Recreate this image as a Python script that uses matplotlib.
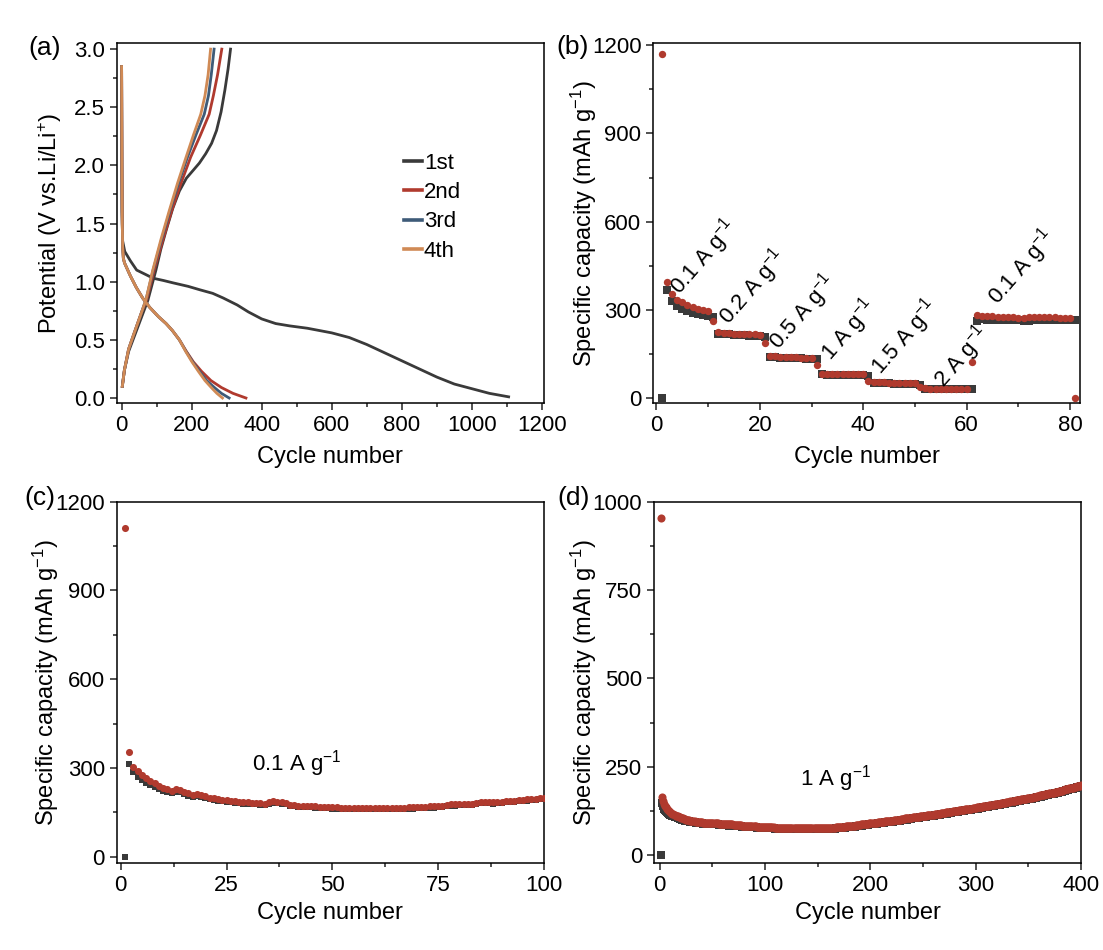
import numpy as np
import matplotlib
matplotlib.use("Agg")
import matplotlib.pyplot as plt
from matplotlib.ticker import MultipleLocator, FormatStrFormatter

plt.rcParams["font.family"] = ["Liberation Sans", "DejaVu Sans"]
plt.rcParams["mathtext.fontset"] = "custom"
plt.rcParams["mathtext.rm"] = "Liberation Sans"
plt.rcParams["mathtext.it"] = "Liberation Sans:italic"
plt.rcParams["axes.linewidth"] = 1.1

BLACK = "#3a3a3a"
RED = "#b03a2e"
BLUE = "#3e5b78"
ORANGE = "#d08a55"

# ---- (a) galvanostatic profiles: capacity (mAh/g) vs potential (V)
dis1_cap = [0, 1, 3, 9, 25, 43, 70, 90, 120, 147, 190, 224, 260, 290, 330, 362,
            400, 440, 480, 530, 600, 650, 700, 750, 800, 850, 900, 950, 1000, 1050, 1105]
dis1_v = [2.85, 1.6, 1.35, 1.26, 1.18, 1.10, 1.06, 1.03, 1.01, 0.99, 0.96, 0.93, 0.90,
          0.86, 0.80, 0.74, 0.68, 0.64, 0.62, 0.60, 0.56, 0.52, 0.46, 0.39, 0.32,
          0.25, 0.18, 0.12, 0.08, 0.04, 0.01]
chg1_cap = [2, 8, 20, 35, 55, 75, 98, 112, 127, 146, 165, 185, 205, 222, 240, 257,
            271, 284, 295, 304, 311]
chg1_v = [0.10, 0.24, 0.40, 0.52, 0.68, 0.84, 1.10, 1.28, 1.44, 1.63, 1.78, 1.89,
          1.96, 2.02, 2.10, 2.19, 2.30, 2.46, 2.65, 2.83, 3.0]

dis_v = [2.85, 2.0, 1.5, 1.3, 1.2, 1.16, 1.05, 0.95, 0.86, 0.78, 0.70, 0.64, 0.58,
         0.50, 0.40, 0.31, 0.23, 0.15, 0.09, 0.04, 0.0]
dis2_cap = [0, 1, 2, 3, 5, 8.5, 25, 42, 60, 80, 105, 127, 145, 165, 185, 205, 228,
            255, 285, 318, 355]
dis3_cap = [0, 1, 2, 3, 5, 8.5, 25, 42, 60, 80, 105, 127, 145, 165, 184, 203, 222,
            243, 265, 285, 307]
dis4_cap = [0, 1, 2, 3, 5, 8.5, 25, 42, 60, 80, 105, 127, 145, 165, 183, 201, 219,
            238, 256, 272, 288]

chg_v = [0.10, 0.24, 0.42, 0.55, 0.72, 0.85, 1.10, 1.36, 1.61, 1.85, 2.07, 2.26,
         2.44, 2.60, 2.78, 3.0]
chg2_cap = [2, 8, 20, 35, 55, 72, 93, 118, 143, 170, 197, 225, 250, 262, 274, 286]
chg3_cap = [2, 8, 20, 35, 55, 70, 90, 114, 138, 163, 188, 212, 236, 248, 256, 264]
chg4_cap = [2, 8, 20, 35, 55, 70, 89, 112, 136, 160, 184, 205, 226, 238, 247, 254]

# ---- (b) rate capability, cycles 1-81
rate_charge = [0, 368, 330, 313, 302, 296, 291, 286, 282, 279,
               277, 220, 218, 217, 216, 215, 214, 213, 212, 211,
               208, 141, 139, 138, 137, 137, 136, 136, 135, 135,
               134, 81, 80, 80, 80, 80, 79, 79, 79, 79,
               75, 52, 51, 51, 51, 50, 50, 50, 50, 50,
               46, 32, 32, 32, 31, 31, 31, 31, 31, 31,
               31, 262, 268, 267, 267, 266, 266, 266, 265, 265,
               264, 264, 265, 265, 265, 265, 265, 265, 265, 265,
               266]
rate_discharge = [1170, 394, 353, 334, 326, 317, 311, 304, 300, 296,
                  264, 224, 222, 221, 220, 219, 218, 218, 217, 216,
                  187, 144, 142, 141, 140, 139, 139, 138, 138, 137,
                  112, 84, 83, 83, 83, 82, 82, 82, 82, 82,
                  58, 55, 54, 54, 53, 53, 53, 53, 52, 52,
                  40, 34, 33, 33, 33, 33, 32, 32, 32, 32,
                  124, 282, 281, 279, 278, 277, 277, 276, 276, 274,
                  274, 275, 275, 275, 275, 275, 275, 274, 274, 274,
                  0]
rate_labels = ["0.1 A g$^{-1}$", "0.2 A g$^{-1}$", "0.5 A g$^{-1}$", "1 A g$^{-1}$",
               "1.5 A g$^{-1}$", "2 A g$^{-1}$", "0.1 A g$^{-1}$"]
rate_label_cycle = [4.5, 13.9, 23.7, 33.7, 43.4, 55.6, 66]
rate_label_cap = [351, 249, 164, 124, 79, 35, 317]

# ---- (c) cycling at 0.1 A/g, cycles 1-100
c_charge = [0, 315, 285, 270, 260, 250, 243, 236, 230, 224,
            218, 216, 220, 218, 212, 207, 203, 205, 203, 198,
            194, 191, 190, 188, 186, 185, 183, 181, 180, 179,
            178, 177, 176, 175, 180, 182, 181, 180, 178, 172,
            170, 169, 168, 168, 167, 166, 165, 164, 164, 163,
            163, 162, 162, 162, 162, 161, 161, 161, 161, 161,
            161, 161, 161, 161, 162, 162, 162, 163, 163, 164,
            165, 165, 166, 166, 167, 169, 172, 173, 173, 174,
            174, 175, 176, 177, 181, 182, 181, 180, 181, 182,
            184, 185, 186, 187, 189, 190, 191, 192, 194, 195]
c_discharge = [1110, 355, 305, 289, 278, 265, 256, 248, 240, 234,
               228, 224, 228, 226, 220, 214, 210, 212, 210, 205,
               200, 197, 195, 193, 191, 190, 188, 186, 185, 184,
               183, 182, 181, 180, 186, 187, 186, 185, 183, 176,
               174, 173, 172, 172, 171, 170, 169, 168, 168, 167,
               167, 166, 166, 166, 166, 165, 165, 165, 165, 165,
               165, 165, 165, 165, 166, 166, 166, 167, 167, 168,
               169, 169, 170, 170, 171, 173, 176, 177, 177, 178,
               178, 179, 180, 181, 185, 186, 185, 184, 185, 186,
               188, 189, 190, 191, 193, 194, 195, 196, 198, 199]

# ---- (d) cycling at 1 A/g, cycles 1-400
d_charge = [0, 148, 138, 132, 128, 125, 122, 119, 117, 115,
            114, 112, 111, 109, 108, 107, 106, 104, 103, 102,
            101, 100, 99, 98, 97, 97, 96, 96, 95, 94,
            94, 93, 93, 92, 92, 91, 91, 90, 90, 90,
            89, 89, 89, 88, 88, 88, 88, 87, 87, 87,
            87, 87, 87, 87, 87, 86, 86, 86, 86, 86,
            86, 85, 85, 85, 85, 84, 84, 84, 84, 83,
            83, 83, 83, 82, 82, 82, 82, 81, 81, 81,
            81, 80, 80, 80, 80, 80, 79, 79, 79, 79,
            79, 78, 78, 78, 78, 78, 77, 77, 77, 77,
            77, 77, 76, 76, 76, 76, 76, 76, 75, 75,
            75, 75, 75, 75, 75, 75, 74, 74, 74, 74,
            74, 74, 74, 74, 74, 74, 74, 73, 73, 73,
            73, 73, 73, 73, 73, 73, 73, 73, 73, 73,
            73, 73, 73, 73, 73, 73, 73, 73, 73, 73,
            73, 73, 73, 74, 74, 74, 74, 74, 74, 74,
            74, 75, 75, 75, 75, 75, 76, 76, 76, 76,
            77, 77, 77, 78, 78, 78, 79, 79, 79, 80,
            80, 80, 81, 81, 81, 82, 82, 82, 83, 83,
            84, 84, 85, 85, 85, 86, 86, 86, 87, 87,
            87, 88, 88, 89, 89, 89, 90, 90, 91, 91,
            91, 92, 92, 93, 93, 93, 94, 94, 95, 95,
            95, 96, 96, 97, 97, 97, 98, 98, 99, 99,
            100, 100, 101, 101, 101, 102, 102, 103, 103, 104,
            104, 104, 105, 105, 106, 106, 107, 107, 108, 108,
            108, 109, 109, 110, 110, 111, 111, 112, 112, 112,
            113, 113, 114, 114, 115, 115, 116, 116, 117, 117,
            117, 118, 118, 119, 119, 120, 120, 121, 121, 122,
            122, 123, 123, 124, 124, 125, 125, 126, 126, 127,
            127, 128, 128, 129, 129, 129, 130, 130, 131, 131,
            132, 132, 133, 133, 134, 134, 135, 135, 136, 136,
            137, 137, 138, 138, 139, 140, 140, 141, 141, 142,
            142, 143, 143, 144, 144, 145, 145, 146, 147, 147,
            148, 148, 149, 149, 150, 151, 151, 152, 152, 153,
            153, 154, 155, 155, 156, 156, 157, 157, 158, 158,
            159, 160, 160, 161, 162, 162, 163, 164, 164, 165,
            166, 166, 167, 168, 168, 169, 170, 170, 171, 172,
            172, 173, 174, 174, 175, 176, 177, 177, 178, 179,
            180, 180, 181, 182, 183, 184, 184, 185, 186, 187,
            188, 188, 189, 190, 191, 192, 193, 193, 194, 195]
d_discharge = [953, 165, 152, 145, 139, 135, 131, 128, 125, 122,
               120, 118, 116, 114, 112, 111, 110, 108, 107, 106,
               105, 104, 103, 102, 101, 100, 99, 99, 98, 97,
               97, 96, 96, 95, 95, 94, 94, 93, 93, 93,
               92, 92, 92, 91, 91, 91, 91, 90, 90, 90,
               90, 90, 90, 90, 90, 89, 89, 89, 89, 89,
               89, 88, 88, 88, 88, 87, 87, 87, 87, 86,
               86, 86, 86, 85, 85, 85, 85, 84, 84, 84,
               84, 83, 83, 83, 83, 83, 82, 82, 82, 82,
               82, 81, 81, 81, 81, 81, 80, 80, 80, 80,
               80, 80, 79, 79, 79, 79, 79, 79, 78, 78,
               78, 78, 78, 78, 78, 78, 77, 77, 77, 77,
               77, 77, 77, 77, 77, 77, 77, 76, 76, 76,
               76, 76, 76, 76, 76, 76, 76, 76, 76, 76,
               76, 76, 76, 76, 76, 76, 76, 76, 76, 76,
               76, 76, 76, 77, 77, 77, 77, 77, 77, 77,
               77, 78, 78, 78, 78, 78, 79, 79, 79, 79,
               80, 80, 80, 81, 81, 81, 82, 82, 82, 83,
               83, 83, 84, 84, 84, 85, 85, 85, 86, 86,
               87, 87, 88, 88, 88, 89, 89, 89, 90, 90,
               90, 91, 91, 92, 92, 92, 93, 93, 94, 94,
               94, 95, 95, 96, 96, 96, 97, 97, 98, 98,
               98, 99, 99, 100, 100, 100, 101, 101, 102, 102,
               103, 103, 104, 104, 104, 105, 105, 106, 106, 107,
               107, 107, 108, 108, 109, 109, 110, 110, 111, 111,
               111, 112, 112, 113, 113, 114, 114, 115, 115, 115,
               116, 116, 117, 117, 118, 118, 119, 119, 120, 120,
               120, 121, 121, 122, 122, 123, 123, 124, 124, 125,
               125, 126, 126, 127, 127, 128, 128, 129, 129, 130,
               130, 131, 131, 132, 132, 132, 133, 133, 134, 134,
               135, 135, 136, 136, 137, 137, 138, 138, 139, 139,
               140, 140, 141, 141, 142, 143, 143, 144, 144, 145,
               145, 146, 146, 147, 147, 148, 148, 149, 150, 150,
               151, 151, 152, 152, 153, 154, 154, 155, 155, 156,
               156, 157, 158, 158, 159, 159, 160, 160, 161, 161,
               162, 163, 163, 164, 165, 165, 166, 167, 167, 168,
               169, 169, 170, 171, 171, 172, 173, 173, 174, 175,
               175, 176, 177, 177, 178, 179, 180, 180, 181, 182,
               183, 183, 184, 185, 186, 187, 187, 188, 189, 190,
               191, 191, 192, 193, 194, 195, 196, 196, 197, 198]

TICK_FS = 16
LABEL_FS = 17
CAP_LABEL = "Specific capacity (mAh g$^{-1}$)"


def style(ax, xlabel, ylabel, ylab_x, xlab_y):
    ax.tick_params(which="both", direction="out", top=False, right=False,
                   labelsize=TICK_FS, width=1.1, color="#222222")
    ax.tick_params(which="major", length=5)
    ax.tick_params(which="minor", length=3)
    ax.set_xlabel(xlabel, fontsize=LABEL_FS)
    ax.set_ylabel(ylabel, fontsize=LABEL_FS)
    ax.xaxis.set_label_coords(0.5, xlab_y)
    ax.xaxis.label.set_va("center")
    ax.yaxis.set_label_coords(ylab_x, 0.5)
    ax.yaxis.label.set_va("center")


W, H = 1103, 950
fig = plt.figure(figsize=(W / 100, H / 100), dpi=100)


def box(l, t, r, b):
    return [l / W, 1 - b / H, (r - l) / W, (b - t) / H]


# (a)
ax = fig.add_axes(box(116.7, 43.3, 544, 403))
lw = 2.0
ax.plot(dis1_cap, dis1_v, color=BLACK, lw=lw, label="1st")
ax.plot(chg1_cap, chg1_v, color=BLACK, lw=lw)
ax.plot(dis2_cap, dis_v, color=RED, lw=lw, label="2nd")
ax.plot(chg2_cap, chg_v, color=RED, lw=lw)
ax.plot(dis3_cap, dis_v, color=BLUE, lw=lw, label="3rd")
ax.plot(chg3_cap, chg_v, color=BLUE, lw=lw)
ax.plot(dis4_cap, dis_v, color=ORANGE, lw=lw, label="4th")
ax.plot(chg4_cap, chg_v, color=ORANGE, lw=lw)
ax.set_xlim(-14, 1206)
ax.set_ylim(-0.043, 3.05)
ax.xaxis.set_major_locator(MultipleLocator(200))
ax.xaxis.set_minor_locator(MultipleLocator(100))
ax.yaxis.set_major_locator(MultipleLocator(0.5))
ax.yaxis.set_minor_locator(MultipleLocator(0.25))
ax.yaxis.set_major_formatter(FormatStrFormatter("%.1f"))
style(ax, "Cycle number", "Potential (V vs.Li/Li$^{+}$)", -0.156, -0.15)
leg = ax.legend(loc="upper left", bbox_to_anchor=(0.672, 0.695), frameon=False,
                fontsize=16, handlelength=0.8, handletextpad=0.1, labelspacing=0.37,
                borderpad=0, borderaxespad=0)
for h in leg.legend_handles:
    h.set_linewidth(2.6)

# (b)
ax = fig.add_axes(box(653.3, 43.3, 1080.4, 403))
cyc_b = np.arange(1, len(rate_charge) + 1)
ax.scatter(cyc_b, rate_charge, marker="s", s=26, color=BLACK, lw=0, zorder=3)
ax.scatter(cyc_b, rate_discharge, marker="o", s=28, color=RED, lw=0, zorder=4)
for txt, cx, cy in zip(rate_labels, rate_label_cycle, rate_label_cap):
    ax.text(cx, cy, txt, rotation=49, rotation_mode="anchor", ha="left",
            va="baseline", fontsize=16)
ax.set_xlim(-0.6, 82)
ax.set_ylim(-16, 1206)
ax.xaxis.set_major_locator(MultipleLocator(20))
ax.xaxis.set_minor_locator(MultipleLocator(10))
ax.yaxis.set_major_locator(MultipleLocator(300))
ax.yaxis.set_minor_locator(MultipleLocator(150))
style(ax, "Cycle number", CAP_LABEL, -0.162, -0.15)

# (c)
ax = fig.add_axes(box(116.7, 501.7, 544, 863))
cyc_c = np.arange(1, len(c_charge) + 1)
ax.scatter(cyc_c, c_charge, marker="s", s=24, color=BLACK, lw=0, zorder=3)
ax.scatter(cyc_c, c_discharge, marker="o", s=26, color=RED, lw=0, zorder=4)
ax.text(31, 291, "0.1 A g$^{-1}$", fontsize=16, ha="left", va="baseline")
ax.set_xlim(-0.95, 100)
ax.set_ylim(-21, 1200)
ax.xaxis.set_major_locator(MultipleLocator(25))
ax.xaxis.set_minor_locator(MultipleLocator(12.5))
ax.yaxis.set_major_locator(MultipleLocator(300))
ax.yaxis.set_minor_locator(MultipleLocator(150))
style(ax, "Cycle number", CAP_LABEL, -0.166, -0.139)

# (d)
ax = fig.add_axes(box(654, 501.7, 1081, 863))
cyc_d = np.arange(1, len(d_charge) + 1)
ax.scatter(cyc_d, d_charge, marker="s", s=30, color=BLACK, lw=0, zorder=3)
ax.scatter(cyc_d, d_discharge, marker="o", s=34, color=RED, lw=0, zorder=4)
ax.text(133, 198, "1 A g$^{-1}$", fontsize=16, ha="left", va="baseline")
ax.set_xlim(-5.5, 400)
ax.set_ylim(-22, 1000)
ax.xaxis.set_major_locator(MultipleLocator(100))
ax.xaxis.set_minor_locator(MultipleLocator(50))
ax.yaxis.set_major_locator(MultipleLocator(250))
ax.yaxis.set_minor_locator(MultipleLocator(125))
style(ax, "Cycle number", CAP_LABEL, -0.165, -0.139)

# panel letters
for txt, x, y in [("(a)", 28, 48), ("(b)", 556, 47), ("(c)", 24, 498), ("(d)", 557, 498)]:
    fig.text(x / W, 1 - y / H, txt, fontsize=19, ha="left", va="center")

fig.savefig("out.png", dpi=100)
